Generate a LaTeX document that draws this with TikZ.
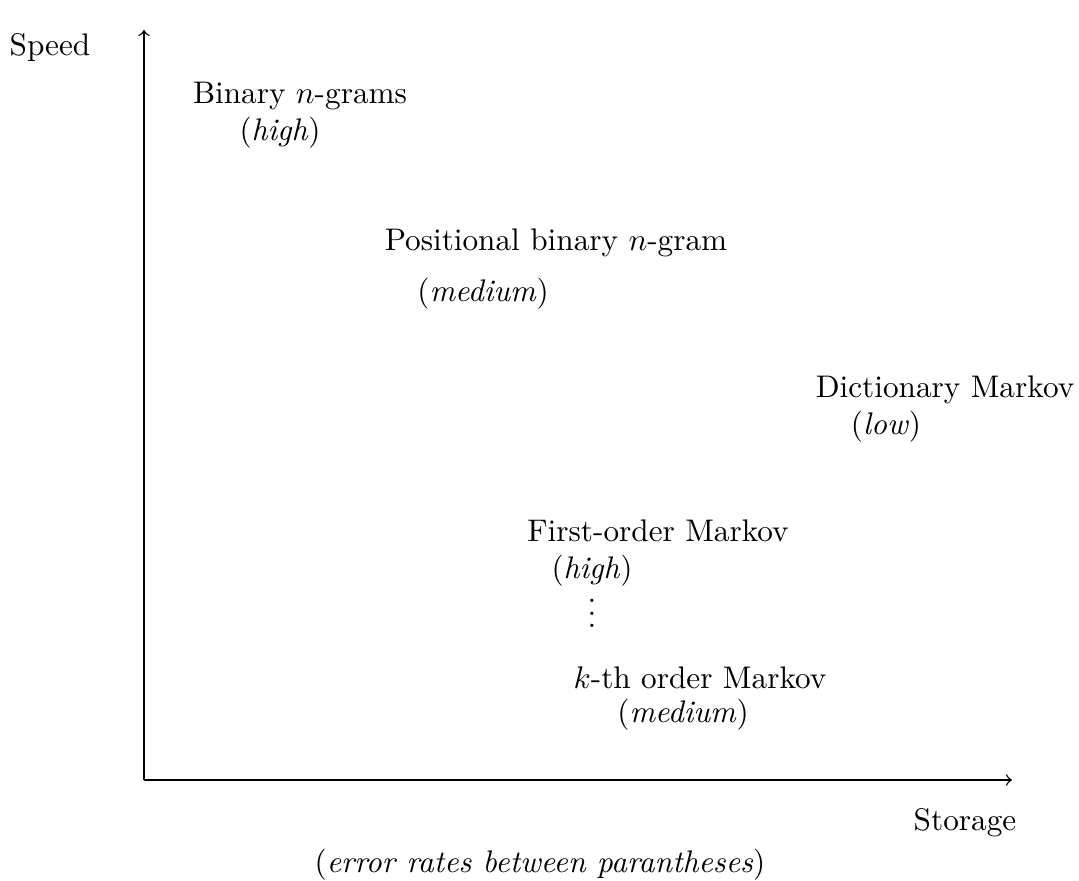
\documentclass[tikz,border=0pt]{standalone}
\begin{document}
\begin{tikzpicture}[x=0.32pt,y=-0.32pt,
  lbl/.style={inner sep=0pt,anchor=center},
  axis/.style={line width=0.45pt,-to}]
\useasboundingbox (0,0) rectangle (1079,881);
\coordinate (o) at (144,780);
\coordinate (ytip) at (144,30);
\coordinate (xtip) at (1012,780);
\draw[axis] (o) -- (ytip);
\draw[axis] (o) -- (xtip);
\node[lbl] (speed) at (50,48) {Speed};
\node[lbl] (storage) at (965,823) {Storage};
\node[lbl] (note) at (540,865) {(\textit{error rates between parantheses})};
\node[lbl] (bin) at (300,96) {Binary $n$-grams};
\node[lbl] (binr) at (280,133) {(\textit{high})};
\node[lbl] (pos) at (556,243) {Positional binary $n$-gram};
\node[lbl] (posr) at (483,294) {(\textit{medium})};
\node[lbl] (dict) at (945,390) {Dictionary Markov};
\node[lbl] (dictr) at (886,427) {(\textit{low})};
\node[lbl] (first) at (658,531) {First-order Markov};
\node[lbl] (firstr) at (592,571) {(\textit{high})};
\node[lbl] (dots) at (592,604) {$\vdots$};
\node[lbl] (kth) at (700,678) {$k$-th order Markov};
\node[lbl] (kthr) at (683,715) {(\textit{medium})};
\end{tikzpicture}
\end{document}
